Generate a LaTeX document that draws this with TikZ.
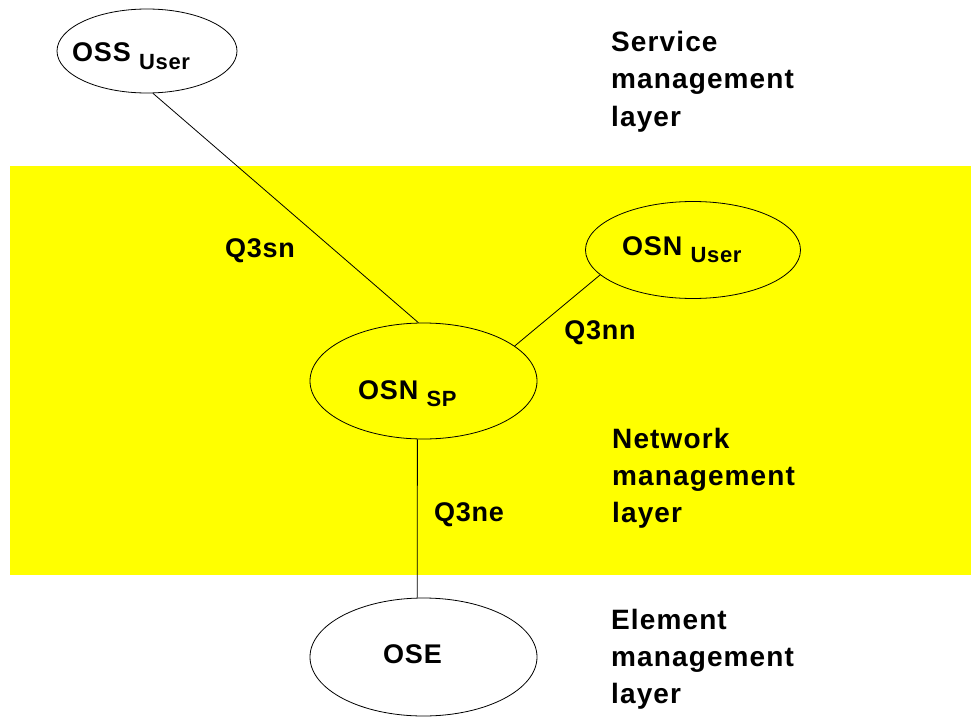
\documentclass[tikz,border=0pt]{standalone}
\usepackage{fontspec}
\setmainfont{Liberation Sans}[LetterSpace=3]
\newfontfamily\layerfont{Liberation Sans}[LetterSpace=4]
\usepackage{tikz}
\usetikzlibrary{
  shapes.geometric
}
\definecolor{layeryellow}{RGB}{255,255,0}
\newcommand{\subtxt}[1]{\raisebox{-7.5pt}{\fontsize{22}{22}\selectfont #1}}

\begin{document}
\begin{tikzpicture}[x=1pt, y=-1pt,
  osbox/.style     = {ellipse, draw, line width=0.8pt, inner sep=0pt},
  ostext/.style    = {anchor=base west, inner sep=0pt, font=\fontsize{27}{27}\selectfont\bfseries},
  iflabel/.style   = {anchor=base, inner sep=0pt, font=\fontsize{27}{27}\selectfont\bfseries},
  layertext/.style = {anchor=base west, inner sep=0pt, text width=230pt, align=left,
                      font=\layerfont\fontsize{28}{37}\selectfont\bfseries},
  link/.style      = {line width=0.8pt}
]
  \useasboundingbox (0,0) rectangle (971,717);

  % Network management layer band
  \fill [layeryellow] (10,166) rectangle (971,575);

  % Operations systems
  \node [osbox, minimum width=180, minimum height=84]  (ossUser) at (147,51)    {};
  \node [osbox, minimum width=215, minimum height=97]  (osnUser) at (693,250)   {};
  \node [osbox, minimum width=227, minimum height=116] (osnSP)   at (423.5,381) {};
  \node [osbox, minimum width=227, minimum height=118] (ose)     at (423.5,657) {};

  \node [ostext] (ossUserText) at (72,61.7)  {OSS \subtxt{User}};
  \node [ostext] (osnUserText) at (622,255)  {OSN \subtxt{User}};
  \node [ostext] (osnSPText)   at (358,399)  {OSN \subtxt{SP}};
  \node [ostext] (oseText)     at (383,663)  {OSE};

  % Interfaces
  \draw [link] (ossUser.278) -- (osnSP.95);
  \draw [link] (osnUser.195) -- (osnSP.21);
  \draw [link] (osnSP.264)   -- (ose.96);

  \node [iflabel] (q3sn) at (260,257) {Q3sn};
  \node [iflabel] (q3nn) at (600,339) {Q3nn};
  \node [iflabel] (q3ne) at (469,521) {Q3ne};

  % Layer names
  \node [layertext] (serviceLayer) at (611,52)  {Service\\management\\layer};
  \node [layertext] (networkLayer) at (612,448) {Network\\management\\layer};
  \node [layertext] (elementLayer) at (611,629) {Element\\management\\layer};
\end{tikzpicture}
\end{document}
